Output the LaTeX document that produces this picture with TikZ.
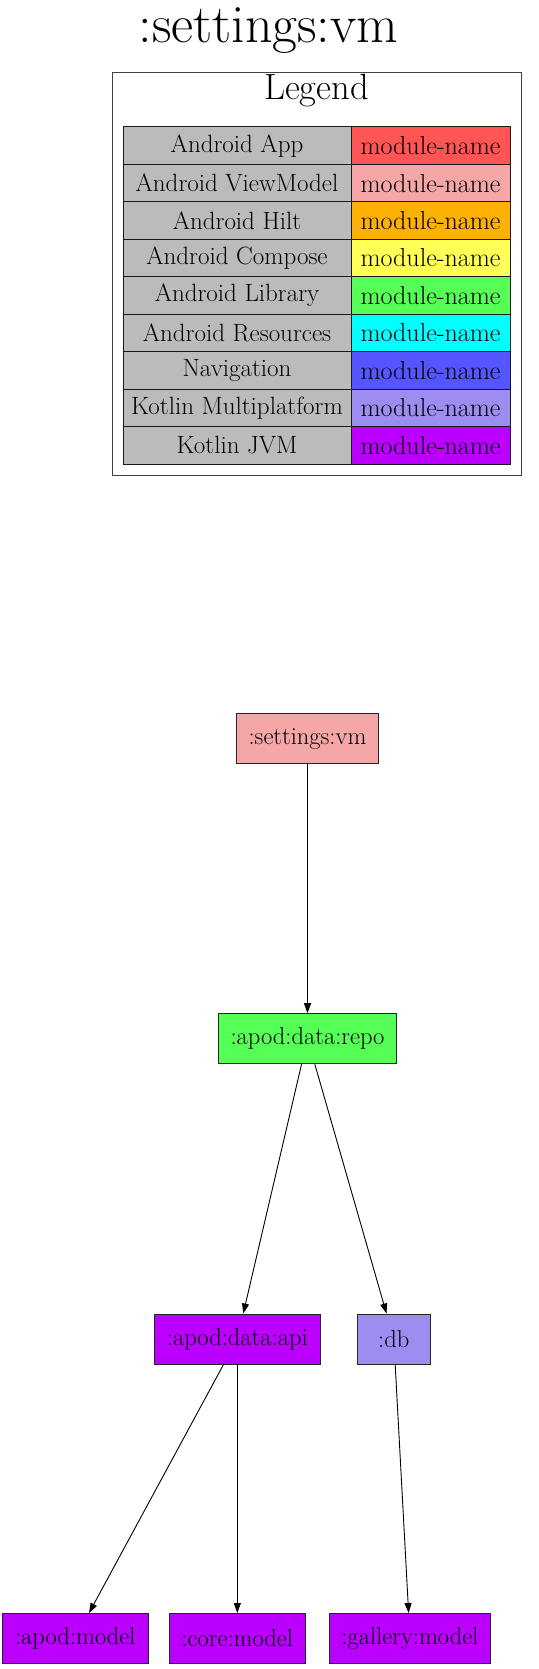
\documentclass[tikz,border=0pt]{standalone}
\usepackage{tikz}
\usetikzlibrary{arrows.meta}

\definecolor{colApp}{HTML}{FF5555}
\definecolor{colViewModel}{HTML}{F5A6A6}
\definecolor{colHilt}{HTML}{FCB103}
\definecolor{colCompose}{HTML}{FFFF55}
\definecolor{colLibrary}{HTML}{55FF55}
\definecolor{colResources}{HTML}{00FFFF}
\definecolor{colNavigation}{HTML}{5555FF}
\definecolor{colKmp}{HTML}{9D8DF1}
\definecolor{colJvm}{HTML}{BB00FF}
\definecolor{colGrey}{HTML}{BBBBBB}

\begin{document}
\begin{tikzpicture}[x=1pt,y=-1pt]
 \tikzstyle{arrow}  = [-{Triangle[length=10pt,width=7pt]},line width=0.9pt];
 \tikzstyle{module} = [draw=black!85,line width=1pt,minimum height=50pt,minimum width=73pt,inner xsep=12.5pt,font=\fontsize{24.5}{28}\selectfont];
 \tikzstyle{kind}   = [draw=black!90,line width=1pt,fill=colGrey,minimum width=228pt,minimum height=37.45pt,inner sep=0pt,node distance=37.45pt,font=\fontsize{25}{29}\selectfont];
 \tikzstyle{swatch} = [draw=black!90,line width=1pt,minimum width=159pt,minimum height=37.45pt,inner sep=0pt,node distance=193.5pt,font=\fontsize{26}{30}\selectfont];

 \useasboundingbox (0,0) rectangle (538,1669);

 %% title
 \node[anchor=base,font=\fontsize{54}{60}\selectfont,name=title] at (268.5,43) {:settings:vm};

 %% legend
 \draw[black!75,line width=1pt] (112,73) rectangle (521,475);
 \node[anchor=base,font=\fontsize{36.5}{40}\selectfont,name=legend] at (316.5,100) {Legend};

 \node[kind,name=k1] at (237,145.7) {Android App};
 \node[swatch,fill=colApp,name=c1,right of=k1] {module-name};
 \node[kind,name=k2,below of=k1] {Android ViewModel};
 \node[swatch,fill=colViewModel,name=c2,right of=k2] {module-name};
 \node[kind,name=k3,below of=k2] {Android Hilt};
 \node[swatch,fill=colHilt,name=c3,right of=k3] {module-name};
 \node[kind,name=k4,below of=k3] {Android Compose};
 \node[swatch,fill=colCompose,name=c4,right of=k4] {module-name};
 \node[kind,name=k5,below of=k4] {Android Library};
 \node[swatch,fill=colLibrary,name=c5,right of=k5] {module-name};
 \node[kind,name=k6,below of=k5] {Android Resources};
 \node[swatch,fill=colResources,name=c6,right of=k6] {module-name};
 \node[kind,name=k7,below of=k6] {Navigation};
 \node[swatch,fill=colNavigation,name=c7,right of=k7] {module-name};
 \node[kind,name=k8,below of=k7] {Kotlin Multiplatform};
 \node[swatch,fill=colKmp,name=c8,right of=k8] {module-name};
 \node[kind,name=k9,below of=k8] {Kotlin JVM};
 \node[swatch,fill=colJvm,name=c9,right of=k9] {module-name};

 %% modules
 \node[module,fill=colViewModel,name=settingsvm] at (307.5,738.7) {:settings:vm};
 \node[module,fill=colLibrary,name=apoddatarepo] at (307.5,1038.7) {:apod:data:repo};
 \node[module,fill=colJvm,name=apoddataapi] at (237.3,1339) {:apod:data:api};
 \node[module,fill=colKmp,name=db] at (393.8,1339) {:db};
 \node[module,fill=colJvm,name=apodmodel] at (75.3,1638.5) {:apod:model};
 \node[module,fill=colJvm,name=coremodel] at (237.3,1638.5) {:core:model};
 \node[module,fill=colJvm,name=gallerymodel] at (410,1638.5) {:gallery:model};

 %% dependencies
 \path (settingsvm) edge [arrow] (apoddatarepo);
 \path (apoddatarepo) edge [arrow] (apoddataapi);
 \path (apoddatarepo) edge [arrow] (db);
 \path (apoddataapi) edge [arrow] (apodmodel);
 \path (apoddataapi) edge [arrow] (coremodel);
 \path (db) edge [arrow] (gallerymodel);

\end{tikzpicture}
\end{document}
